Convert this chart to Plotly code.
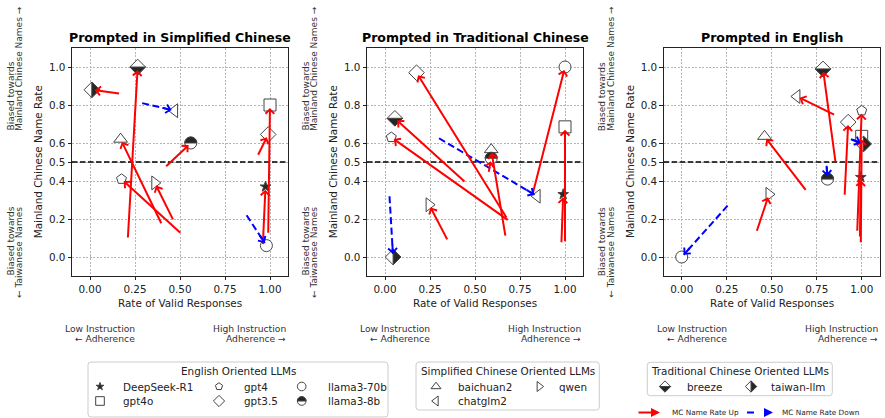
import numpy as np
import plotly.graph_objects as go

W, H = 885, 418
FONT = "DejaVu Sans"
INK = "#222222"
EDGE = "#444444"
DARK = "#262626"

models = ["DeepSeek-R1", "gpt4o", "gpt4", "gpt3.5", "llama3-70b", "llama3-8b",
          "baichuan2", "chatglm2", "qwen", "breeze", "taiwan-llm"]

panel_titles = ["Prompted in Simplified Chinese", "Prompted in Traditional Chinese",
                "Prompted in English"]

# valid-response rate and mainland-name rate, before -> after (one value per model)
sc_valid_before = [0.96, 0.99, 0.51, 0.93, 0.87, 0.415, 0.40, 0.29, 0.465, 0.21, 0.17]
sc_mc_before = [0.06, 0.12, 0.12, 0.53, 0.22, 0.47, 0.17, 0.81, 0.19, 0.095, 0.86]
sc_valid_after = [0.975, 1.0, 0.175, 0.99, 0.98, 0.56, 0.17, 0.47, 0.36, 0.265, 0.01]
sc_mc_after = [0.37, 0.80, 0.41, 0.645, 0.06, 0.60, 0.62, 0.77, 0.39, 1.0, 0.88]

tc_valid_before = [0.98, 1.0, 0.69, 0.68, 0.82, 0.575, 0.67, 0.30, 0.35, 0.45, 0.025]
tc_mc_before = [0.07, 0.075, 0.19, 0.20, 0.33, 0.44, 0.105, 0.625, 0.085, 0.39, 0.32]
tc_valid_after = [0.99, 1.0, 0.035, 0.175, 1.0, 0.59, 0.59, 0.845, 0.245, 0.055, 0.045]
tc_mc_after = [0.33, 0.685, 0.63, 0.97, 1.0, 0.52, 0.565, 0.32, 0.275, 0.73, 0.0]

en_valid_before = [0.99, 0.995, 0.975, 0.905, 0.255, 0.805, 0.695, 0.855, 0.415, 0.855, 0.94]
en_mc_before = [0.10, 0.07, 0.13, 0.32, 0.27, 0.48, 0.345, 0.745, 0.13, 0.495, 0.62]
en_valid_after = [0.995, 1.0, 1.0, 0.925, 0.0, 0.81, 0.46, 0.64, 0.485, 0.785, 1.01]
en_mc_after = [0.42, 0.635, 0.77, 0.71, 0.0, 0.41, 0.635, 0.845, 0.33, 0.99, 0.595]

THRESHOLD = 0.5
x_ticks = [0, 0.25, 0.5, 0.75, 1.0]
x_ticktext = ["0.00", "0.25", "0.50", "0.75", "1.00"]
y_ticks = [0, 0.2, 0.4, 0.5, 0.6, 0.8, 1.0]
y_ticktext = ["0.0", "0.2", "0.4", "0.5", "0.6", "0.8", "1.0"]

legend_groups = [
    ("English Oriented LLMs", ["DeepSeek-R1", "gpt4o", "gpt4", "gpt3.5", "llama3-70b", "llama3-8b"], 3),
    ("Simplified Chinese Oriented LLMs", ["baichuan2", "chatglm2", "qwen"], 2),
    ("Traditional Chinese Oriented LLMs", ["breeze", "taiwan-llm"], 2),
]

# marker look per model: plotly symbol, size, fill ('none', 'full', 'top', 'bottom', 'right')
marker_style = {
    "DeepSeek-R1": ("star", 8, "full"),
    "gpt4o": ("square", 12, "none"),
    "gpt4": ("pentagon", 10.5, "none"),
    "gpt3.5": ("diamond", 12, "none"),
    "llama3-70b": ("circle", 12, "none"),
    "llama3-8b": ("circle", 12, "top"),
    "baichuan2": ("triangle-up", 12, "none"),
    "chatglm2": ("triangle-left", 12, "none"),
    "qwen": ("triangle-right", 12, "none"),
    "breeze": ("diamond", 12, "bottom"),
    "taiwan-llm": ("diamond", 12, "right"),
}

# ---- layout geometry (pixels) ----
frame_left = [72, 367, 663.7]
frame_w = 216
frame_top, frame_bottom = 48, 276
x_range = [-0.1, 1.1]
y_range = [-0.1, 1.1]
px_per_x = frame_w / (x_range[1] - x_range[0])
px_per_y = (frame_bottom - frame_top) / (y_range[1] - y_range[0])


def half_path(symbol, fill, size):
    """Path (pixels around the point, y up) of the dark half of a half-filled marker."""
    if symbol == "circle":
        r = size / 2
        t = np.linspace(0, np.pi, 19) if fill == "top" else np.linspace(np.pi, 2 * np.pi, 19)
        pts = list(zip(r * np.cos(t), r * np.sin(t)))
    else:
        R = 0.65 * size
        if fill == "bottom":
            pts = [(-R, 0), (0, -R), (R, 0)]
        elif fill == "top":
            pts = [(-R, 0), (0, R), (R, 0)]
        else:
            pts = [(0, R), (R, 0), (0, -R)]
    return "M" + "L".join(f"{a:.2f},{b:.2f}" for a, b in pts) + "Z"


def add_marker(fig, shapes, m, x, y, xr, yr, scale=1.0):
    symbol, size, fill = marker_style[m]
    size = size * scale
    fig.add_trace(go.Scatter(
        x=[x], y=[y], xaxis=xr, yaxis=yr, mode="markers", name=m,
        marker=dict(symbol=symbol, size=size,
                    color=DARK if fill == "full" else "white",
                    line=dict(color=EDGE, width=1)),
        hovertemplate=m + "<extra></extra>"))
    if fill in ("top", "bottom", "right"):
        shapes.append(dict(type="path", xref=xr, yref=yr, xsizemode="pixel", ysizemode="pixel",
                           xanchor=x, yanchor=y, path=half_path(symbol, fill, size),
                           fillcolor=DARK, line=dict(color=EDGE, width=1)))


fig = go.Figure()
annotations, shapes = [], []


def text(x, y, s, size, **kw):
    d = dict(x=x, y=y, xref="x4", yref="y4", text=s, showarrow=False,
             font=dict(family=FONT, size=size, color=kw.pop("color", INK)))
    d.update(kw)
    annotations.append(d)


panels = [
    (sc_valid_before, sc_mc_before, sc_valid_after, sc_mc_after),
    (tc_valid_before, tc_mc_before, tc_valid_after, tc_mc_after),
    (en_valid_before, en_mc_before, en_valid_after, en_mc_after),
]

axis_common = dict(range=x_range, ticks="outside", ticklen=3.5, tickwidth=0.8, tickcolor=INK,
                   showline=True, mirror=True, linecolor=INK, linewidth=0.9,
                   showgrid=True, gridcolor="#b5b5b5", gridwidth=0.7, griddash="2px,1.5px",
                   zeroline=False, tickfont=dict(family=FONT, size=10.4, color=INK))

for k, (vb, mb, va, ma) in enumerate(panels):
    sfx = "" if k == 0 else str(k + 1)
    xr, yr = "x" + sfx, "y" + sfx
    L = frame_left[k]
    fig.update_layout(**{
        "xaxis" + sfx: dict(axis_common, domain=[L / W, (L + frame_w) / W], anchor=yr,
                            tickvals=x_ticks, ticktext=x_ticktext),
        "yaxis" + sfx: dict(axis_common, domain=[1 - frame_bottom / H, 1 - frame_top / H],
                            range=y_range, anchor=xr, tickvals=y_ticks, ticktext=y_ticktext),
    })
    # threshold line drawn as a trace so it sits under the markers
    fig.add_trace(go.Scatter(x=x_range, y=[THRESHOLD, THRESHOLD], xaxis=xr, yaxis=yr, mode="lines",
                             line=dict(color="black", width=1.6, dash="5.5px,2.5px"),
                             hoverinfo="skip"))

    # markers at the current position
    for i, m in enumerate(models):
        add_marker(fig, shapes, m, va[i], ma[i], xr, yr)

    # arrows from previous to current position
    for i, m in enumerate(models):
        x0, y0, x1, y1 = vb[i], mb[i], va[i], ma[i]
        if y1 >= y0:
            annotations.append(dict(x=x1, y=y1, ax=x0, ay=y0, xref=xr, yref=yr, axref=xr, ayref=yr,
                                    text="", showarrow=True, arrowhead=4, arrowsize=0.85,
                                    arrowwidth=2, arrowcolor="red", standoff=3))
        else:
            # dashed shaft as a line trace, arrow head from a short annotation on top
            dxp, dyp = (x1 - x0) * px_per_x, -(y1 - y0) * px_per_y
            n = np.hypot(dxp, dyp)
            ux, uy = dxp / n, dyp / n
            xe = x1 - ux * 3 / px_per_x
            ye = y1 + uy * 3 / px_per_y
            fig.add_trace(go.Scatter(x=[x0, xe], y=[y0, ye], xaxis=xr, yaxis=yr, mode="lines",
                                     line=dict(color="blue", width=2, dash="7px,3.5px"),
                                     hoverinfo="skip"))
            head_len = min(14.0, n)
            annotations.append(dict(x=x1, y=y1, ax=float(-ux * head_len), ay=float(-uy * head_len),
                                    xref=xr, yref=yr, text="", showarrow=True, arrowhead=4,
                                    arrowsize=0.85, arrowwidth=2, arrowcolor="blue", standoff=3))

    # titles and labels
    cx = L + frame_w / 2
    text(cx, 37.3, "<b>" + panel_titles[k] + "</b>", 12.5, color="black")
    text(cx, 303, "Rate of Valid Responses", 10.4)
    text(L - 33.7, (frame_top + frame_bottom) / 2, "Mainland Chinese Name Rate", 10.4, textangle=-90)
    text(L - 62, 133, "Biased towards", 9, textangle=-90, yanchor="bottom", color="#333333")
    text(L - 53.5, 133, "Mainland Chinese Names \u2192", 9, textangle=-90, yanchor="bottom", color="#333333")
    text(L - 62, 205, "Biased towards", 9, textangle=-90, yanchor="top", color="#333333")
    text(L - 53.5, 205, "\u2190 Taiwanese Names", 9, textangle=-90, yanchor="top", color="#333333")
    text(L + 65, 328.3, "Low Instruction", 9.2, xanchor="right", color="#333333")
    text(L + 65, 338.5, "\u2190 Adherence", 9.2, xanchor="right", color="#333333")
    text(L + frame_w, 328.3, "High Instruction", 9.2, xanchor="right", color="#333333")
    text(L + frame_w, 338.5, "Adherence \u2192", 9.2, xanchor="right", color="#333333")

# ---- hand-built legends on a hidden full-page axis (pixel units) ----
fig.update_layout(
    xaxis4=dict(domain=[0, 1], range=[0, W], visible=False, anchor="y4", fixedrange=True),
    yaxis4=dict(domain=[0, 1], range=[H, 0], visible=False, anchor="x4", fixedrange=True),
)

legend_boxes = [(88, 362, 388, 417), (416, 362, 599.3, 410), (647.3, 362.3, 832.3, 395.7)]
legend_marker_x = [[100, 219, 301.7], [436, 539.3], [665, 751]]
legend_label_x = [[120.7, 241.7, 326], [456, 556.7], [685, 769.3]]
legend_row_y = [386.5, 401]
legend_title_y = 371


def rounded_box(x0, y0, x1, y1, r=3):
    return (f"M{x0 + r},{y0}H{x1 - r}Q{x1},{y0} {x1},{y0 + r}V{y1 - r}Q{x1},{y1} {x1 - r},{y1}"
            f"H{x0 + r}Q{x0},{y1} {x0},{y1 - r}V{y0 + r}Q{x0},{y0} {x0 + r},{y0}Z")


for g, (title, members, ncol) in enumerate(legend_groups):
    x0, y0, x1, y1 = legend_boxes[g]
    shapes.append(dict(type="path", xref="x4", yref="y4", path=rounded_box(x0, y0, x1, y1),
                       fillcolor="rgba(0,0,0,0)", line=dict(color="#cccccc", width=1)))
    text((x0 + x1) / 2, legend_title_y, title, 10.4)
    nrows = int(np.ceil(len(members) / ncol))
    for j, m in enumerate(members):
        col, row = j // nrows, j % nrows
        add_marker(fig, shapes, m, legend_marker_x[g][col], legend_row_y[row], "x4", "y4", scale=0.72)
        text(legend_label_x[g][col], legend_row_y[row], m, 10.4, xanchor="left")

# arrow key
key_y = 412.5
annotations.append(dict(x=660, y=key_y, ax=-23, ay=0, xref="x4", yref="y4", text="", showarrow=True,
                        arrowhead=2, arrowsize=0.9, arrowwidth=2, arrowcolor="red"))
text(670, key_y, "MC Name Rate Up", 7.3, xanchor="left")
fig.add_trace(go.Scatter(x=[747, 757], y=[key_y, key_y], xaxis="x4", yaxis="y4", mode="lines",
                         line=dict(color="blue", width=2, dash="7px,4px"), hoverinfo="skip"))
annotations.append(dict(x=773, y=key_y, ax=-9, ay=0, xref="x4", yref="y4", text="", showarrow=True,
                        arrowhead=2, arrowsize=0.9, arrowwidth=2, arrowcolor="blue"))
text(780, key_y, "MC Name Rate Down", 7.3, xanchor="left")

fig.update_layout(
    width=W, height=H, margin=dict(l=0, r=0, t=0, b=0),
    paper_bgcolor="white", plot_bgcolor="rgba(0,0,0,0)",
    showlegend=False, font=dict(family=FONT, color=INK),
    annotations=annotations, shapes=shapes,
)

# the default page has an 8px body margin; drop it so the figure fills the window
fig.write_html("out.html", config={"displayModeBar": False},
               post_script="document.body.style.margin = '0';")
